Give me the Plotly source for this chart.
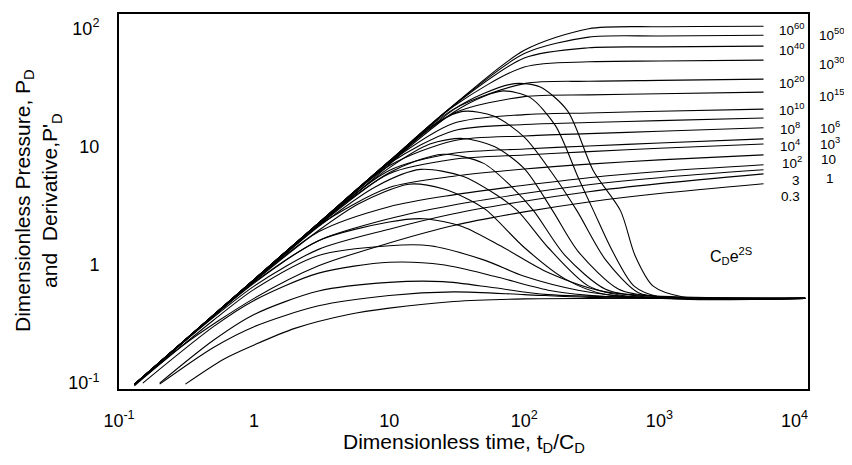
import plotly.graph_objects as go

# ---------------- data ----------------
X_TICKS = [0.1, 1, 10, 100, 1000, 10000]
X_TICKTEXT = ["10<sup>-1</sup>", "1", "10", "10<sup>2</sup>", "10<sup>3</sup>", "10<sup>4</sup>"]
Y_TICKS = [0.1, 1, 10, 100]
Y_TICKTEXT = ["10<sup>-1</sup>", "1", "10", "10<sup>2</sup>"]

# pressure curves, common time grid (tD/CD)
T_P = [0.13, 0.3, 1, 3, 10, 30, 100, 300, 1000, 5900]
P_1E60 = [0.0975, 0.225, 0.75, 2.25, 7.5, 22.4, 65, 99, 103, 104]
P_1E50 = [0.0975, 0.225, 0.75, 2.25, 7.5, 22.3, 61, 84, 86, 87.1]
P_1E40 = [0.0975, 0.225, 0.75, 2.25, 7.5, 22.2, 56, 68.3, 69.5, 70.5]
P_1E30 = [0.0975, 0.225, 0.75, 2.25, 7.48, 21.9, 47, 52, 52.8, 53.7]
P_1E20 = [0.0975, 0.225, 0.75, 2.25, 7.47, 20.7, 34, 35.6, 36.2, 37.1]
P_1E15 = [0.0975, 0.225, 0.75, 2.25, 7.44, 19.1, 26.4, 27.3, 27.9, 28.8]
P_1E10 = [0.0975, 0.225, 0.75, 2.25, 7.3, 15.7, 18.6, 19.2, 19.85, 20.7]
P_1E8 = [0.0975, 0.225, 0.75, 2.24, 7.17, 13.6, 15.35, 15.95, 16.55, 17.4]
P_1E6 = [0.0975, 0.225, 0.75, 2.24, 6.86, 11.2, 12.28, 12.85, 13.45, 14.4]
P_1E4 = [0.0975, 0.225, 0.75, 2.23, 6.27, 8.77, 9.53, 10.1, 10.7, 11.6]
P_1E3 = [0.0975, 0.225, 0.749, 2.22, 5.88, 7.79, 8.48, 9.05, 9.65, 10.5]
P_1E2 = [0.0975, 0.225, 0.748, 2.15, 4.5, 5.6, 6.45, 7.1, 7.7, 8.5]
P_10 = [0.0975, 0.225, 0.735, 1.9, 3.1, 3.9, 4.7, 5.45, 6.15, 7.0]
P_3 = [0.0975, 0.224, 0.71, 1.6, 2.45, 3.2, 4.0, 4.75, 5.45, 6.35]
P_1 = [0.0973, 0.222, 0.66, 1.35, 2.0, 2.7, 3.45, 4.15, 4.85, 5.87]
P_03 = [0.095, 0.21, 0.52, 0.98, 1.53, 2.15, 2.8, 3.4, 4.0, 4.84]
PRESSURE = [P_1E60, P_1E50, P_1E40, P_1E30, P_1E20, P_1E15, P_1E10, P_1E8,
            P_1E6, P_1E4, P_1E3, P_1E2, P_10, P_3, P_1, P_03]

# derivative curves (t, P'D); all settle on the same late-time level
D_1E30_T = [0.13, 1, 10, 30, 50, 85, 130, 209, 325, 515, 660, 900, 1500, 12000]
D_1E30_V = [0.097, 0.74, 7.3, 20.5, 28, 34, 32, 20, 6.2, 2.87, 1.2, 0.66, 0.535, 0.52]
D_1E20_T = [0.13, 1, 10, 30, 50, 70, 110, 170, 250, 325, 450, 650, 1000, 12000]
D_1E20_V = [0.097, 0.74, 7.2, 19.5, 26.5, 29.5, 26, 15, 5.5, 2.87, 1.3, 0.66, 0.535, 0.52]
D_1E15_T = [0.13, 1, 10, 20, 35, 60, 100, 160, 245, 400, 700, 1200, 12000]
D_1E15_V = [0.097, 0.74, 7.0, 14.5, 19.8, 18, 12, 6, 2.87, 1.1, 0.58, 0.53, 0.52]
D_1E10_T = [0.13, 1, 3, 10, 20, 35, 60, 100, 162, 250, 500, 1000, 12000]
D_1E10_V = [0.097, 0.74, 2.2, 6.6, 10.5, 11.7, 10, 6.5, 2.87, 1.3, 0.62, 0.535, 0.52]
D_1E8_T = [0.13, 1, 3, 10, 25, 50, 80, 117, 200, 400, 800, 12000]
D_1E8_V = [0.097, 0.74, 2.15, 6.0, 8.6, 7.2, 4.6, 2.87, 1.2, 0.62, 0.535, 0.52]
D_1E6_T = [0.13, 1, 3, 8, 17, 35, 60, 89, 150, 300, 600, 12000]
D_1E6_V = [0.097, 0.73, 2.1, 4.6, 6.4, 5.6, 4.0, 2.87, 1.4, 0.66, 0.54, 0.52]
D_1E4_T = [0.13, 1, 3, 6, 14, 25, 40, 53, 100, 200, 400, 12000]
D_1E4_V = [0.097, 0.72, 1.95, 3.3, 4.8, 4.4, 3.5, 2.87, 1.4, 0.76, 0.56, 0.52]
D_1E3_T = [0.13, 1, 3, 10, 18, 35, 70, 150, 400, 12000]
D_1E3_V = [0.097, 0.7, 1.6, 2.3, 2.45, 2.1, 1.4, 0.86, 0.59, 0.52]
D_1E2_T = [0.13, 0.5, 1, 3, 10, 20, 50, 100, 250, 600, 12000]
D_1E2_V = [0.096, 0.34, 0.62, 1.2, 1.45, 1.45, 1.1, 0.8, 0.61, 0.54, 0.52]
D_10_T = [0.15, 0.5, 1, 3, 10, 25, 60, 150, 400, 12000]
D_10_V = [0.1, 0.3, 0.5, 0.85, 1.05, 1.0, 0.8, 0.61, 0.54, 0.52]
D_3_T = [0.2, 0.5, 1, 3, 10, 25, 60, 150, 12000]
D_3_V = [0.1, 0.23, 0.38, 0.6, 0.71, 0.72, 0.64, 0.56, 0.52]
D_1_T = [0.2, 0.5, 1, 3, 10, 30, 100, 300, 12000]
D_1_V = [0.098, 0.2, 0.3, 0.45, 0.55, 0.59, 0.56, 0.53, 0.52]
D_03_T = [0.31, 0.6, 1, 2, 5, 10, 30, 100, 12000]
D_03_V = [0.098, 0.16, 0.21, 0.29, 0.38, 0.43, 0.49, 0.515, 0.52]
DERIVATIVE = [(D_1E30_T, D_1E30_V), (D_1E20_T, D_1E20_V), (D_1E15_T, D_1E15_V),
              (D_1E10_T, D_1E10_V), (D_1E8_T, D_1E8_V), (D_1E6_T, D_1E6_V),
              (D_1E4_T, D_1E4_V), (D_1E3_T, D_1E3_V), (D_1E2_T, D_1E2_V),
              (D_10_T, D_10_V), (D_3_T, D_3_V), (D_1_T, D_1_V), (D_03_T, D_03_V)]

# curve labels (CDe2S values), two columns at the right
LABELS_IN = ["10<sup>60</sup>", "10<sup>40</sup>", "10<sup>20</sup>", "10<sup>10</sup>",
             "10<sup>8</sup>", "10<sup>4</sup>", "10<sup>2</sup>", "3", "0.3"]
LABELS_OUT = ["10<sup>50</sup>", "10<sup>30</sup>", "10<sup>15</sup>", "10<sup>6</sup>",
              "10<sup>3</sup>", "10", "1"]

# ---------------- layout geometry (window pixels) ----------------
WIN_W, WIN_H = 852, 465
BODY = 8                      # default page margin of the browser
W, H = WIN_W - BODY, WIN_H - BODY
L, R, T, B = 119, 808, 12, 389
LAB_IN_POS = [(792, 27), (792, 47), (792, 80), (792, 108), (790, 127),
              (790, 144), (792, 161), (796, 179), (790, 195)]
LAB_OUT_POS = [(832, 32), (832, 61), (832, 93), (830, 126), (830, 142),
               (828, 158), (830, 177)]


def px(x, y):
    return (x - L) / (R - L), (B - y) / (B - T)


FONT = "Liberation Sans, Arial, Helvetica, sans-serif"
line = dict(color="black", width=1.1, shape="spline", smoothing=0.8)

fig = go.Figure()
for vals in PRESSURE:
    fig.add_trace(go.Scatter(x=T_P, y=vals, mode="lines", line=line,
                             hoverinfo="skip", showlegend=False))
for t, v in DERIVATIVE:
    fig.add_trace(go.Scatter(x=t, y=v, mode="lines", line=line,
                             hoverinfo="skip", showlegend=False))

ann = []
for txt, (x, y) in zip(LABELS_IN, LAB_IN_POS):
    xp, yp = px(x, y)
    ann.append(dict(text=txt, x=xp, y=yp, xref="paper", yref="paper",
                    showarrow=False, xanchor="center", yanchor="middle",
                    font=dict(family=FONT, size=13.5, color="black")))
for txt, (x, y) in zip(LABELS_OUT, LAB_OUT_POS):
    xp, yp = px(x, y)
    ann.append(dict(text=txt, x=xp, y=yp, xref="paper", yref="paper",
                    showarrow=False, xanchor="center", yanchor="middle",
                    font=dict(family=FONT, size=13.5, color="black")))
xp, yp = px(731, 255)
ann.append(dict(text="C<sub>D</sub>e<sup>2S</sup>", x=xp, y=yp, xref="paper", yref="paper",
                showarrow=False, xanchor="center", yanchor="middle",
                font=dict(family=FONT, size=16, color="black")))
xp, yp = px(464, 443)
ann.append(dict(text="Dimensionless time, t<sub>D</sub>/C<sub>D</sub>", x=xp, y=yp,
                xref="paper", yref="paper", showarrow=False,
                xanchor="center", yanchor="middle",
                font=dict(family=FONT, size=21, color="black")))
xp, yp = px(38, 200)
ann.append(dict(text="Dimensionless Pressure, P<sub>D</sub><br>and\u00a0 Derivative,P'<sub>D</sub>",
                x=xp, y=yp, xref="paper", yref="paper", showarrow=False,
                textangle=-90, xanchor="center", yanchor="middle",
                font=dict(family=FONT, size=21, color="black")))

axis_common = dict(type="log", showgrid=False, zeroline=False, showline=True,
                   linecolor="black", linewidth=2, mirror=True,
                   ticks="outside", tickcolor="rgba(0,0,0,0)",
                   tickfont=dict(family=FONT, size=18, color="black"))
fig.update_layout(
    width=W, height=H, autosize=False,
    margin=dict(l=L - BODY, r=WIN_W - R, t=T - BODY, b=WIN_H - B),
    paper_bgcolor="white", plot_bgcolor="white",
    xaxis=dict(range=[-1, 4.1], tickvals=X_TICKS, ticktext=X_TICKTEXT, ticklen=14,
               **axis_common),
    yaxis=dict(range=[-1.05, 2.12], tickvals=Y_TICKS, ticktext=Y_TICKTEXT, ticklen=14,
               **axis_common),
    annotations=ann,
)
fig.write_html("out.html")
